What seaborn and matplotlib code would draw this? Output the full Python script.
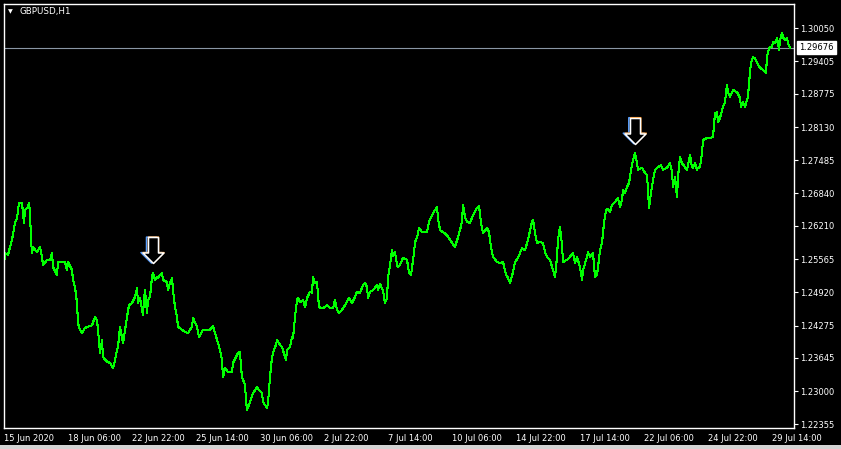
import numpy as np
import pandas as pd
import matplotlib
matplotlib.use("Agg")
import matplotlib.pyplot as plt
import matplotlib.transforms as mtransforms
from matplotlib.path import Path
from matplotlib.patches import Rectangle
import seaborn as sns

# GBPUSD H1 closes.
# bar = trading hours since 15 Jun 2020 14:00 (MT4 draws one bar per hour, weekends skipped)
bar = [
    0, 1, 4, 8, 11, 13, 15, 18, 20, 21, 24, 25, 26, 27, 28, 29, 33, 36, 38, 39,
    43, 46, 48, 49, 53, 54, 58, 61, 63, 64, 68, 69, 71, 73, 74, 76, 78, 81, 84, 88,
    91, 93, 94, 96, 98, 99, 103, 106, 109, 111, 113, 114, 116, 119, 120, 123, 125, 128, 131, 133,
    134, 136, 139, 140, 141, 143, 144, 146, 148, 149, 151, 153, 154, 156, 158, 159, 163, 164, 166, 168,
    169, 171, 173, 174, 178, 181, 184, 188, 189, 193, 195, 199, 203, 206, 209, 211, 214, 216, 218, 219,
    221, 224, 228, 229, 232, 234, 236, 237, 238, 239, 241, 242, 243, 246, 249, 253, 255, 258, 259, 263,
    264, 266, 268, 270, 272, 273, 276, 278, 281, 282, 283, 286, 288, 289, 291, 293, 294, 296, 299, 301,
    303, 306, 308, 309, 311, 313, 314, 315, 319, 323, 326, 329, 331, 333, 335, 338, 341, 345, 348, 351,
    353, 356, 359, 361, 363, 364, 366, 369, 373, 374, 376, 379, 381, 383, 384, 386, 388, 389, 391, 393,
    394, 396, 399, 403, 405, 407, 409, 410, 411, 413, 415, 418, 423, 425, 428, 431, 433, 434, 436, 439,
    443, 446, 448, 451, 454, 456, 458, 459, 461, 463, 466, 469, 473, 475, 477, 479, 483, 485, 487, 489,
    493, 496, 499, 502, 504, 506, 509, 511, 514, 518, 521, 524, 528, 529, 531, 533, 536, 539, 541, 543,
    546, 549, 551, 553, 554, 556, 558, 559, 563, 566, 569, 571, 573, 576, 578, 579, 583, 584, 586, 589,
    591, 593, 594, 596, 598, 600, 602, 604, 606, 608, 611, 614, 616, 618, 619, 621, 623, 625, 627, 629,
    631, 633, 634, 638, 641, 643, 644, 645, 647, 649, 651, 654, 657, 659, 663, 666, 668, 669, 671, 673,
    674, 676, 678, 681, 683, 684, 686, 688, 689, 691, 693, 694, 696, 698, 699, 703, 706, 709, 711, 713,
    714, 716, 719, 721, 723, 724, 726, 729, 733, 736, 737, 739, 741, 743, 744, 745, 747, 749, 751, 753,
    756, 759, 762, 763, 765, 768, 769, 771, 773, 774, 775, 776, 778, 779, 781, 783, 784, 786,
]
close = [
    1.2545, 1.2568, 1.2565, 1.2594, 1.2627, 1.2636, 1.2666, 1.2666, 1.2627, 1.2652,
    1.2658, 1.2666, 1.2646, 1.2594, 1.2568, 1.2580, 1.2570, 1.2580, 1.2561, 1.2545,
    1.2555, 1.2555, 1.2568, 1.2541, 1.2526, 1.2551, 1.2551, 1.2551, 1.2535, 1.2551,
    1.2535, 1.2516, 1.2502, 1.2471, 1.2432, 1.2419, 1.2413, 1.2423, 1.2425, 1.2428,
    1.2444, 1.2438, 1.2419, 1.2374, 1.2399, 1.2366, 1.2357, 1.2355, 1.2345, 1.2360,
    1.2380, 1.2386, 1.2425, 1.2393, 1.2405, 1.2444, 1.2467, 1.2471, 1.2483, 1.2500,
    1.2471, 1.2481, 1.2448, 1.2477, 1.2496, 1.2452, 1.2477, 1.2483, 1.2522, 1.2530,
    1.2516, 1.2522, 1.2520, 1.2526, 1.2530, 1.2516, 1.2512, 1.2496, 1.2510, 1.2520,
    1.2496, 1.2463, 1.2444, 1.2425, 1.2419, 1.2415, 1.2413, 1.2425, 1.2442, 1.2425,
    1.2405, 1.2419, 1.2419, 1.2419, 1.2427, 1.2413, 1.2393, 1.2380, 1.2360, 1.2327,
    1.2345, 1.2337, 1.2337, 1.2355, 1.2366, 1.2374, 1.2376, 1.2347, 1.2327, 1.2322,
    1.2312, 1.2283, 1.2263, 1.2279, 1.2296, 1.2308, 1.2302, 1.2296, 1.2279, 1.2267,
    1.2277, 1.2327, 1.2366, 1.2380, 1.2390, 1.2399, 1.2390, 1.2386, 1.2366, 1.2360,
    1.2380, 1.2386, 1.2405, 1.2403, 1.2444, 1.2477, 1.2481, 1.2473, 1.2477, 1.2463,
    1.2481, 1.2493, 1.2491, 1.2522, 1.2510, 1.2512, 1.2487, 1.2463, 1.2461, 1.2467,
    1.2461, 1.2461, 1.2477, 1.2458, 1.2452, 1.2458, 1.2467, 1.2481, 1.2471, 1.2483,
    1.2493, 1.2491, 1.2506, 1.2510, 1.2502, 1.2481, 1.2493, 1.2496, 1.2506, 1.2496,
    1.2508, 1.2496, 1.2471, 1.2481, 1.2520, 1.2545, 1.2574, 1.2563, 1.2570, 1.2545,
    1.2541, 1.2545, 1.2559, 1.2555, 1.2530, 1.2526, 1.2555, 1.2568, 1.2590, 1.2598,
    1.2617, 1.2609, 1.2609, 1.2629, 1.2642, 1.2652, 1.2658, 1.2636, 1.2613, 1.2609,
    1.2603, 1.2594, 1.2588, 1.2580, 1.2599, 1.2613, 1.2629, 1.2662, 1.2638, 1.2629,
    1.2627, 1.2642, 1.2656, 1.2660, 1.2627, 1.2607, 1.2617, 1.2609, 1.2580, 1.2561,
    1.2551, 1.2549, 1.2551, 1.2526, 1.2520, 1.2510, 1.2531, 1.2551, 1.2559, 1.2578,
    1.2574, 1.2594, 1.2629, 1.2633, 1.2607, 1.2588, 1.2590, 1.2588, 1.2570, 1.2561,
    1.2555, 1.2535, 1.2522, 1.2561, 1.2594, 1.2619, 1.2584, 1.2551, 1.2555, 1.2561,
    1.2568, 1.2549, 1.2561, 1.2541, 1.2516, 1.2535, 1.2561, 1.2570, 1.2561, 1.2568,
    1.2522, 1.2526, 1.2541, 1.2574, 1.2588, 1.2627, 1.2652, 1.2654, 1.2648, 1.2662,
    1.2667, 1.2675, 1.2658, 1.2671, 1.2691, 1.2685, 1.2697, 1.2704, 1.2730, 1.2749,
    1.2763, 1.2743, 1.2730, 1.2734, 1.2724, 1.2720, 1.2691, 1.2656, 1.2685, 1.2710,
    1.2730, 1.2735, 1.2739, 1.2730, 1.2734, 1.2743, 1.2726, 1.2697, 1.2716, 1.2677,
    1.2716, 1.2755, 1.2743, 1.2735, 1.2730, 1.2739, 1.2759, 1.2735, 1.2734, 1.2743,
    1.2730, 1.2734, 1.2735, 1.2763, 1.2788, 1.2792, 1.2792, 1.2794, 1.2840, 1.2842,
    1.2823, 1.2831, 1.2852, 1.2862, 1.2895, 1.2881, 1.2872, 1.2885, 1.2881, 1.2870,
    1.2852, 1.2862, 1.2852, 1.2866, 1.2872, 1.2899, 1.2938, 1.2949, 1.2947, 1.2938,
    1.2928, 1.2924, 1.2918, 1.2949, 1.2967, 1.2969, 1.2978, 1.2976, 1.2986, 1.2978,
    1.2963, 1.2982, 1.2996, 1.2988, 1.2982, 1.2986, 1.2976, 1.29676,
]

price_ticks = [1.22355, 1.23000, 1.23645, 1.24275, 1.24920, 1.25565, 1.26210,
               1.26840, 1.27485, 1.28130, 1.28775, 1.29405, 1.30050]
time_tick_bars = [0, 64, 128, 192, 256, 320, 384, 448, 512, 576, 640, 704, 768]
time_tick_labels = ["15 Jun 2020", "18 Jun 06:00", "22 Jun 22:00", "25 Jun 14:00",
                    "30 Jun 06:00", "2 Jul 22:00", "7 Jul 14:00", "10 Jul 06:00",
                    "14 Jul 22:00", "17 Jul 14:00", "22 Jul 06:00", "24 Jul 22:00",
                    "29 Jul 14:00"]
bid = 1.29676
symbol = "GBPUSD,H1"

# down-arrow objects placed on the chart (centre of the arrow)
arrow_bars = [148.5, 630.8]
arrow_prices = [1.2574, 1.2806]

df = pd.DataFrame({"bar": bar, "close": close})

# %%
sns.set_style("dark")
plt.rcParams["font.family"] = ["DejaVu Sans"]
plt.rcParams["axes.facecolor"] = "black"
plt.rcParams["figure.facecolor"] = "black"

W, H = 841, 449
fig = plt.figure(figsize=(W / 100, H / 100), dpi=100)
ax = fig.add_axes([3.5 / W, (H - 427.5) / H, 790 / W, 424 / H])
ax.set_facecolor("black")

sns.lineplot(data=df, x="bar", y="close", ax=ax, color="#00ff00", lw=0.75,
             estimator=None, sort=True, antialiased=False)

# current bid line
ax.axhline(bid, color="#8a96a4", lw=0.8, zorder=1)

ax.set_xlim(-0.5, 789.5)
ax.set_ylim(1.22293, 1.30532)

for s in ax.spines.values():
    s.set_color("white")
    s.set_linewidth(1.0)

ax.yaxis.tick_right()
ax.set_yticks(price_ticks)
ax.set_yticklabels([f"{p:.5f}" for p in price_ticks])
ax.set_xticks(time_tick_bars)
ax.set_xticklabels(time_tick_labels)
for lab in ax.get_xticklabels():
    lab.set_horizontalalignment("left")
ax.tick_params(axis="both", colors="white", labelcolor="white", labelsize=6.0,
               length=3, width=0.8, direction="out")
ax.tick_params(axis="x", pad=2)
ax.tick_params(axis="y", pad=2)
ax.set_xlabel("")
ax.set_ylabel("")
ax.grid(False)

# bid label box on the price scale
ax.annotate(f"{bid:.5f}", xy=(1.0, bid), xycoords=("axes fraction", "data"),
            xytext=(4.2, 0), textcoords="offset points", va="center", ha="left",
            fontsize=6.0, color="black",
            bbox=dict(boxstyle="square,pad=0.28", fc="white", ec="white"))

# hollow down arrows
arrow_path = Path([(-5, 13), (5, 13), (5, -2.5), (10.5, -2.5), (0, -13),
                   (-10.5, -2.5), (-5, -2.5), (-5, 13)], closed=True)
for dx, col in [(-1, "#5aa0ff"), (1, "#ff9a30"), (0, "white")]:
    tr = mtransforms.offset_copy(ax.transData, fig=fig, x=dx, y=0, units="dots")
    ax.scatter(arrow_bars, arrow_prices, marker=arrow_path, s=18.7 ** 2,
               facecolor="none" if dx else "black", edgecolor=col,
               linewidth=1.1, transform=tr, zorder=5)

# symbol caption, top left
fig.text(10.3 / W, 1 - 11.5 / H, "▼", color="white", fontsize=4.5,
         ha="center", va="center")
fig.text(19 / W, 1 - 11.7 / H, symbol, color="white", fontsize=6.3,
         ha="left", va="center")

# window edge at the bottom
fig.add_artist(Rectangle((0, 0), 1, 4 / H, transform=fig.transFigure,
                         color="#d4d4d4", lw=0))

fig.savefig("out.png", dpi=100, facecolor="black")
